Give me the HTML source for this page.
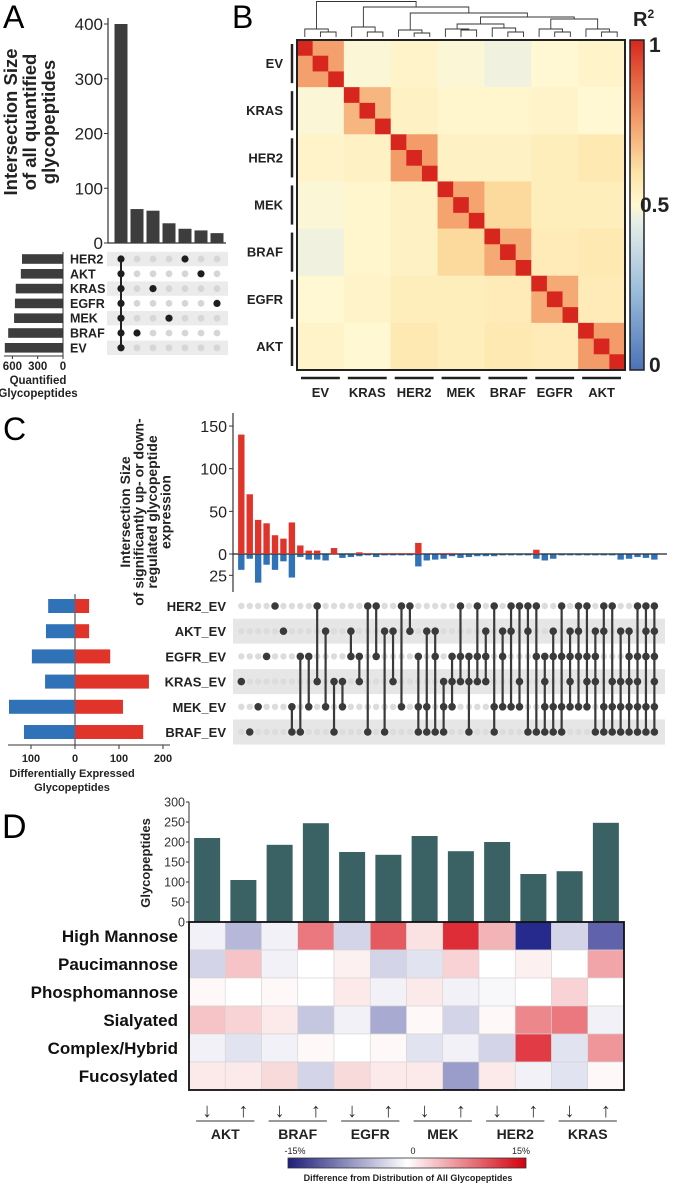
<!DOCTYPE html>
<html><head><meta charset="utf-8"><style>
html,body{margin:0;padding:0;background:#fff}
svg{display:block;font-family:"Liberation Sans",sans-serif}
</style></head><body>
<svg id="fig" width="677" height="1185" viewBox="0 0 677 1185" xmlns="http://www.w3.org/2000/svg">
<g id="pA"></g>
<g id="pB"></g>
<g id="pC"></g>
<g id="pD"></g>
</svg>
<script>
// ---------- Panel A data ----------
const aSets = ["HER2","AKT","KRAS","EGFR","MEK","BRAF","EV"];
const aSetSizes = [486,500,560,570,580,650,690];
const aInterSizes = [400,62,59,36,26,23,18];
const aInterMembers = [["HER2","AKT","KRAS","EGFR","MEK","BRAF","EV"],["BRAF"],["KRAS"],["MEK"],["HER2"],["AKT"],["EGFR"]];
const aYTicks = [0,100,200,300,400];
const aXTicks = [600,300,0];
// ---------- Panel B data ----------
const bGroups = ["EV","KRAS","HER2","MEK","BRAF","EGFR","AKT"];
const bWithin = [0.75,0.70,0.76,0.74,0.73,0.73,0.76];
const bBetween = [
 [1,0.49,0.52,0.49,0.47,0.50,0.52],
 [0.49,1,0.53,0.51,0.51,0.52,0.50],
 [0.52,0.53,1,0.53,0.53,0.55,0.57],
 [0.49,0.51,0.53,1,0.62,0.55,0.55],
 [0.47,0.51,0.53,0.62,1,0.56,0.57],
 [0.50,0.52,0.55,0.55,0.56,1,0.56],
 [0.52,0.50,0.57,0.55,0.57,0.56,1]];
// ---------- Panel C data ----------
const cSets = ["HER2_EV","AKT_EV","EGFR_EV","KRAS_EV","MEK_EV","BRAF_EV"];
const cSetDown = [61,66,98,68,150,116];
const cSetUp = [32,32,80,168,109,155];
const cUp = [140,70,40,36,22,18,37,10,4,4,0,7,0,0,2,1,0,1,1,1,1,13,0,0,1,1,0,0,0,0,0,0,0,0,0,5,0,0,0,0,0,0,0,0,0,0,0,0,0,0];
const cDown = [18,5,33,12,18,8,27,3,6,6,7,0,4,3,2,1,3,1,1,1,1,14,7,6,5,2,4,3,2,2,2,1,1,1,1,5,7,5,1,1,1,1,1,1,1,6,5,3,4,6];
const cMembers = ["K","B","M","E","H","A","MB","EB","EM","HK","AM","KB","KM","AE","EK","HB","HE","AB","AK","HM","HA","EMB","AMB","AEB","KMB","EKM","HEK","EKB","HEK","AEK","HMB","AEM","HAM","HKM","HAB","HEB","EKMB","AEMB","HEMB","AEKM","HAEM","HEKM","AEKB","HAMB","HKMB","AKMB","AEKMB","HEKMB","HAEMB","HAEKMB"];
const cYTicksUp = [0,50,100,150];
// ---------- Panel D data ----------
const dGroups = ["AKT","BRAF","EGFR","MEK","HER2","KRAS"];
const dCounts = [210,105,193,247,175,168,215,177,200,120,127,248];
const dRows = ["High Mannose","Paucimannose","Phosphomannose","Sialyated","Complex/Hybrid","Fucosylated"];
const dVals = [
 [-1,-5,-1,9,-3,11,2,14,5,-15,-3,-11],
 [-3,4,-1,0,1,-3,-2,3,0,1,0,6],
 [0.5,0,0.5,0,1.5,-1,1.5,-1,-0.5,0,3,0],
 [4,3,1.5,-4,-1,-6,0.5,-3,0.5,8,9,-1],
 [-1,-2,-1,0.5,0,0.5,-2,-1,-3,13,-2,7],
 [1.5,1.5,2.5,-3,2.5,1.5,1.5,-7,1.5,-1,-2,0.5]];
const dYTicks = [0,50,100,150,200,250,300];

const NS="http://www.w3.org/2000/svg";
function mk(parent,tag,attrs,text){const e=document.createElementNS(NS,tag);for(const k in attrs)e.setAttribute(k,attrs[k]);if(text!==undefined)e.textContent=text;parent.appendChild(e);return e;}
function hex(c){return [parseInt(c.slice(1,3),16),parseInt(c.slice(3,5),16),parseInt(c.slice(5,7),16)];}
function ramp(stops,v){for(let i=1;i<stops.length;i++){if(v<=stops[i][0]||i===stops.length-1){const a=stops[i-1],b=stops[i];let t=(v-a[0])/(b[0]-a[0]);t=Math.max(0,Math.min(1,t));const A=hex(a[1]),B=hex(b[1]);return `rgb(${A.map((x,j)=>Math.round(x+(B[j]-x)*t)).join(",")})`;}}}

// ================= PANEL A =================
(function(){
 const g=document.getElementById('pA');
 let e;
 e=mk(g,'text',{x:3,y:28,'font-size':32},'A');
 
 const ax=108, y0=243, y400=24;
 const ys=v=>y0-(v/400)*(y0-y400);
 const colX=i=>121+i*16;
 mk(g,'line',{x1:ax,y1:18,x2:ax,y2:y0,stroke:'#333','stroke-width':1.2});
 mk(g,'line',{x1:ax,y1:y0,x2:226,y2:y0,stroke:'#333','stroke-width':1.2});
 aYTicks.forEach(t=>{
  mk(g,'line',{x1:ax-4,y1:ys(t),x2:ax,y2:ys(t),stroke:'#333'});
  const tl=mk(g,'text',{x:ax-5,y:ys(t)+6,'font-size':17,'text-anchor':'end',fill:'#222'},t);
  
 });
 const tt=mk(g,'text',{transform:'translate(30,122) rotate(-90)','font-size':18.5,'font-weight':'bold','text-anchor':'middle',fill:'#222'});
 
 ["Intersection Size","of all quantified","glycopeptides"].forEach((s,i)=>mk(tt,'tspan',{x:0,dy:i?19:-13},s));
 aInterSizes.forEach((v,i)=>{
  const b=mk(g,'rect',{x:colX(i)-6.5,y:ys(v),width:13,height:y0-ys(v),fill:'#3d3d3d'});
  
 });
 const rowY=i=>259+i*14.8;
 aSets.forEach((s,i)=>{
  if(i%2===0){mk(g,'rect',{x:107,y:rowY(i)-7.2,width:121,height:14.4,fill:'#ebebeb'});}
  const l=mk(g,'text',{x:70,y:rowY(i)+4.5,'font-size':12.5,'font-weight':'bold',fill:'#222'},s);
  
 });
 // set size bars
 const bx0=63, px300=25.3;
 aSetSizes.forEach((v,i)=>{
  const w=v/300*px300;
  const b=mk(g,'rect',{x:bx0-w,y:rowY(i)-4.8,width:w,height:9.6,fill:'#3d3d3d'});
  
 });
 mk(g,'line',{x1:bx0,y1:252,x2:bx0,y2:356,stroke:'#333'});
 mk(g,'line',{x1:4,y1:356,x2:bx0,y2:356,stroke:'#333'});
 aXTicks.forEach(t=>{const x=bx0-t/300*px300;mk(g,'line',{x1:x,y1:356,x2:x,y2:359,stroke:'#333'});
  const tl=mk(g,'text',{x:x,y:370,'font-size':11.5,'font-weight':'bold','text-anchor':'middle',fill:'#222'},t);
  });
 const xt=mk(g,'text',{x:38,y:384,'font-size':11.5,'font-weight':'bold','text-anchor':'middle',fill:'#222'});
 
 mk(xt,'tspan',{x:38,dy:0},'Quantified');mk(xt,'tspan',{x:38,dy:13},'Glycopeptides');
 // dots
 aInterMembers.forEach((m,c)=>{
  const idx=m.map(s=>aSets.indexOf(s));
  aSets.forEach((s,r)=>{if(!idx.includes(r)){mk(g,'circle',{cx:colX(c),cy:rowY(r),r:3.4,fill:'#d6d6d6'});}});
  if(idx.length>1){mk(g,'line',{x1:colX(c),y1:rowY(Math.min(...idx)),x2:colX(c),y2:rowY(Math.max(...idx)),stroke:'#222','stroke-width':2});}
  idx.forEach(r=>{const d=mk(g,'circle',{cx:colX(c),cy:rowY(r),r:3.6,fill:'#1e1e1e'});
   });
 });
})();

// ================= PANEL B =================
(function(){
 const g=document.getElementById('pB');
 let e=mk(g,'text',{x:232,y:28,'font-size':32},'B');
 
 const X0=297,Y0=40,W=328,H=330,n=21,cw=W/n,ch=H/n;
 const stops=[[0,'#4a72b8'],[0.25,'#9fc0dc'],[0.45,'#e6eee8'],[0.5,'#fff8d2'],[0.6,'#fde3a6'],[0.75,'#f4a06c'],[0.9,'#e35a3a'],[1,'#d7261e']];
 for(let i=0;i<n;i++)for(let j=0;j<n;j++){
  const gi=Math.floor(i/3),gj=Math.floor(j/3);
  let v=(i===j)?1:(gi===gj?bWithin[gi]:bBetween[gi][gj]);
  const r=mk(g,'rect',{x:X0+j*cw,y:Y0+i*ch,width:cw+0.4,height:ch+0.4,fill:ramp(stops,v)});
  
 }
 mk(g,'rect',{x:X0,y:Y0,width:W,height:H,fill:'none',stroke:'#222','stroke-width':2});
 bGroups.forEach((s,k)=>{
  const yc=Y0+(k*3+1.5)*ch;
  mk(g,'line',{x1:292,y1:Y0+k*3*ch+4,x2:292,y2:Y0+(k+1)*3*ch-4,stroke:'#222','stroke-width':2.5});
  const l=mk(g,'text',{x:283,y:yc+4.5,'font-size':13,'font-weight':'bold','text-anchor':'end',fill:'#222'},s);
  
  const xc=X0+(k*3+1.5)*cw;
  mk(g,'line',{x1:X0+k*3*cw+4,y1:378,x2:X0+(k+1)*3*cw-4,y2:378,stroke:'#222','stroke-width':2.5});
  const c=mk(g,'text',{x:xc,y:397,'font-size':13,'font-weight':'bold','text-anchor':'middle',fill:'#222'},s);
  
 });
 // dendrogram
 const leafX=i=>X0+(i+0.5)*cw, LB=37;
 function node(x,y){return {x,y};}
 function join(a,b,h){mk(g,'path',{d:`M${a.x},${a.y}V${h}H${b.x}V${b.y}`,fill:'none',stroke:'#333','stroke-width':0.9});return node((a.x+b.x)/2,h);}
 const grp=(k,h1,h2)=>{const l0=node(leafX(3*k),LB),l1=node(leafX(3*k+1),LB),l2=node(leafX(3*k+2),LB);const p=join(l1,l2,h1);return join(l0,p,h2);};
 const EV=grp(0,32,29),KR=grp(1,32,27),HE=grp(2,33,30),ME=grp(3,30,29),BR=grp(4,32,28),EG=grp(5,32,29),AK=grp(6,32,29);
 const MB=join(ME,BR,24),EA=join(EG,AK,19),MBEA=join(MB,EA,17),H2=join(HE,MBEA,13),K2=join(KR,H2,7);join(EV,K2,1.5);
 // colorbar
 const defs=mk(g,'defs',{});
 const lg=mk(defs,'linearGradient',{id:'bgrad',x1:0,y1:1,x2:0,y2:0});
 stops.forEach(s=>mk(lg,'stop',{offset:s[0],'stop-color':s[1]}));
 const cb=mk(g,'rect',{x:630,y:40,width:14,height:330,fill:'url(#bgrad)',stroke:'#222','stroke-width':1.5});
 
 [['1',649,52],['0.5',640,212],['0',649,372]].forEach(t=>{const l=mk(g,'text',{x:t[1],y:t[2],'font-size':21,'font-weight':'bold',fill:'#222'},t[0]);});
 const r2=mk(g,'text',{x:633,y:26,'font-size':20,'font-weight':'bold',fill:'#222'});
 
 mk(r2,'tspan',{},'R');mk(r2,'tspan',{'font-size':12,dy:-8},'2');
})();

// ================= PANEL C =================
(function(){
 const g=document.getElementById('pC');
 let e=mk(g,'text',{x:3,y:440,'font-size':32},'C');
 
 const ax=233,y0=554,k=0.853;
 const yu=v=>y0-v*k, yd=v=>y0+v*k;
 const colX=i=>241.3+i*8.43;
 const rowY=i=>606+i*25.2;
 cSets.forEach((s,i)=>{if(i%2===1)mk(g,'rect',{x:233,y:rowY(i)-12.5,width:432,height:25,fill:'#e6e6e6'});});
 mk(g,'line',{x1:ax,y1:413,x2:ax,y2:592,stroke:'#333','stroke-width':1.2});
 cYTicksUp.forEach(t=>{mk(g,'line',{x1:ax-4,y1:yu(t),x2:ax,y2:yu(t),stroke:'#333'});
  const l=mk(g,'text',{x:ax-6,y:yu(t)+6,'font-size':16,'text-anchor':'end',fill:'#222'},t);
  });
 mk(g,'line',{x1:ax-4,y1:yd(25),x2:ax,y2:yd(25),stroke:'#333'});
 e=mk(g,'text',{x:ax-6,y:yd(25)+6,'font-size':16,'text-anchor':'end',fill:'#222'},'25');
 
 mk(g,'line',{x1:ax,y1:y0,x2:667,y2:y0,stroke:'#222','stroke-width':1.2});
 const tt=mk(g,'text',{transform:'translate(148,512) rotate(-90)','font-size':14,'font-weight':'bold','text-anchor':'middle',fill:'#222'});
 
 ["Intersection Size","of significantly up- or down-","regulated glycopeptide","expression"].forEach((s,i)=>mk(tt,'tspan',{x:0,dy:i?13.5:-18},s));
 cUp.forEach((v,i)=>{if(v>0){const b=mk(g,'rect',{x:colX(i)-3.2,y:yu(v),width:6.4,height:v*k,fill:'#e0332a'});}});
 cDown.forEach((v,i)=>{if(v>0){const b=mk(g,'rect',{x:colX(i)-3.2,y:y0+0.5,width:6.4,height:v*k,fill:'#2f72b8'});}});
 const code=["H","A","E","K","M","B"];
 cSets.forEach((s,i)=>{const l=mk(g,'text',{x:226,y:rowY(i)+5,'font-size':13,'font-weight':'bold','text-anchor':'end',fill:'#222'},s);});
 cMembers.forEach((m,c)=>{
  const idx=code.map((ch,r)=>m.includes(ch)?r:-1).filter(r=>r>=0);
  code.forEach((ch,r)=>{if(!idx.includes(r))mk(g,'circle',{cx:colX(c),cy:rowY(r),r:3.2,fill:'#dcdcdc'});});
  if(idx.length>1)mk(g,'line',{x1:colX(c),y1:rowY(Math.min(...idx)),x2:colX(c),y2:rowY(Math.max(...idx)),stroke:'#3a3a3a','stroke-width':2.2});
  idx.forEach(r=>{const d=mk(g,'circle',{cx:colX(c),cy:rowY(r),r:3.8,fill:'#3a3a3a'});});
 });
 // left diverging bars
 const cx=75,px=0.44;
 mk(g,'line',{x1:cx,y1:594,x2:cx,y2:745,stroke:'#333'});
 cSets.forEach((s,i)=>{
  const yb=rowY(i)-7;
  const bl=mk(g,'rect',{x:cx-cSetDown[i]*px,y:yb,width:cSetDown[i]*px,height:14,fill:'#2f72b8'});
  
  const br=mk(g,'rect',{x:cx,y:yb,width:cSetUp[i]*px,height:14,fill:'#e0332a'});
  
 });
 mk(g,'line',{x1:8,y1:745,x2:170,y2:745,stroke:'#333'});
 [[-100,'100'],[0,'0'],[100,'100'],[200,'200']].forEach(t=>{const x=cx+t[0]*px;mk(g,'line',{x1:x,y1:745,x2:x,y2:749,stroke:'#333'});
  const l=mk(g,'text',{x:x,y:762,'font-size':11,'font-weight':'bold','text-anchor':'middle',fill:'#222'},t[1]);});
 const xt=mk(g,'text',{x:72,y:777,'font-size':11,'font-weight':'bold','text-anchor':'middle',fill:'#222'});
 
 mk(xt,'tspan',{x:72,dy:0},'Differentially  Expressed');mk(xt,'tspan',{x:72,dy:14},'Glycopeptides');
})();

// ================= PANEL D =================
(function(){
 const g=document.getElementById('pD');
 let e=mk(g,'text',{x:2,y:838,'font-size':34},'D');
 
 const ax=189,y0=922,k=0.4,X1=624,cw=(X1-ax)/12,rh=28;
 const ys=v=>y0-v*k, colX=i=>ax+(i+0.5)*cw;
 mk(g,'line',{x1:ax,y1:ys(300),x2:ax,y2:y0,stroke:'#333'});
 dYTicks.forEach(t=>{mk(g,'line',{x1:ax-3,y1:ys(t),x2:ax,y2:ys(t),stroke:'#333'});
  const l=mk(g,'text',{x:ax-4,y:ys(t)+4.5,'font-size':12.5,'text-anchor':'end',fill:'#333'},t);
  });
 const tt=mk(g,'text',{transform:'translate(150,863) rotate(-90)','font-size':13,'font-weight':'bold','text-anchor':'middle',fill:'#222'},'Glycopeptides');
 
 dCounts.forEach((v,i)=>{const b=mk(g,'rect',{x:colX(i)-13,y:ys(v),width:26,height:v*k,fill:'#3a6264'});});
 const stops=[[-15,'#262a8c'],[0,'#ffffff'],[15,'#dc1e28']];
 dRows.forEach((rname,r)=>{
  dVals[r].forEach((v,c)=>{const cell=mk(g,'rect',{x:ax+c*cw,y:y0+r*rh,width:cw,height:rh,fill:ramp(stops,v),stroke:'#d4d4d4','stroke-width':0.6});});
  const l=mk(g,'text',{x:178,y:y0+r*rh+20,'font-size':17,'font-weight':'bold','text-anchor':'end',fill:'#111',textLength:undefined},rname);
  l.removeAttribute('textLength');
  
 });
 mk(g,'rect',{x:ax,y:y0,width:X1-ax,height:rh*6,fill:'none',stroke:'#111','stroke-width':1.8});
 dGroups.forEach((s,k2)=>{
  const xa=colX(2*k2),xb=colX(2*k2+1);
  const d=mk(g,'text',{x:xa,y:1117,'font-size':20,'text-anchor':'middle',fill:'#333'},'↓');
  const u=mk(g,'text',{x:xb,y:1117,'font-size':20,'text-anchor':'middle',fill:'#333'},'↑');
  mk(g,'line',{x1:xa-11,y1:1121,x2:xb+11,y2:1121,stroke:'#333','stroke-width':1});
  const l=mk(g,'text',{x:(xa+xb)/2,y:1139,'font-size':14,'font-weight':'bold','text-anchor':'middle',fill:'#222'},s);
  
 });
 const defs=mk(g,'defs',{});
 const lg=mk(defs,'linearGradient',{id:'dgrad',x1:0,y1:0,x2:1,y2:0});
 [[0,'#1e1e7a'],[0.5,'#ffffff'],[1,'#d2000f']].forEach(s=>mk(lg,'stop',{offset:s[0],'stop-color':s[1]}));
 const cb=mk(g,'rect',{x:288,y:1158,width:238,height:10,fill:'url(#dgrad)',stroke:'#333','stroke-width':0.8});
 
 [['-15%',295],['0',413],['15%',521]].forEach(t=>{const l=mk(g,'text',{x:t[1],y:1154,'font-size':9,'text-anchor':'middle',fill:'#222'},t[0]);});
 const ct=mk(g,'text',{x:408,y:1181,'font-size':9,'font-weight':'bold','text-anchor':'middle',fill:'#222'},'Difference from Distribution of All Glycopeptides');
 
})();
</script>
</body></html>
